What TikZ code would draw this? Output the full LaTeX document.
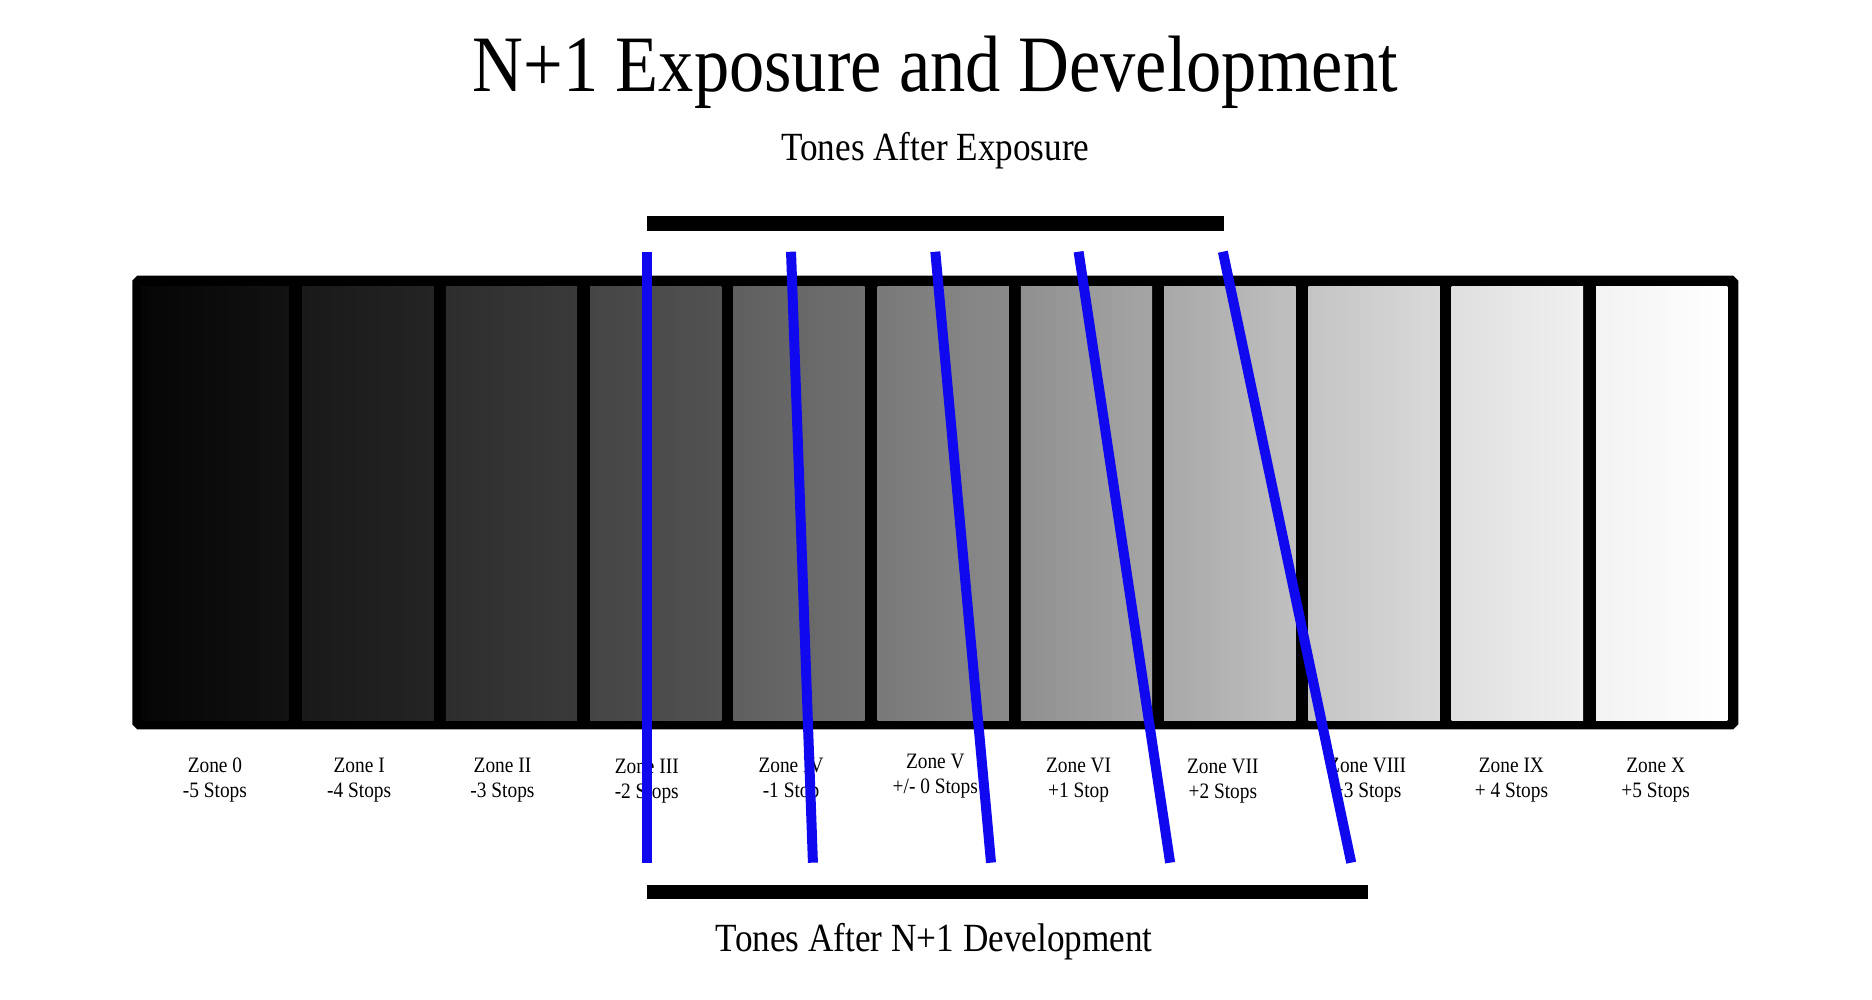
\documentclass[tikz,border=0pt]{standalone}
\usepackage{fontspec}
\setmainfont[FakeStretch=0.88]{Liberation Serif}
\definecolor{toneblue}{RGB}{16,8,238}

\begin{document}
\begin{tikzpicture}[x=0.995pt,y=-0.995pt,
    tone/.style={draw=toneblue,line width=10pt},
    zone/.style={align=center,font=\fontsize{22}{25}\selectfont}]
    \useasboundingbox (0,0) rectangle (1881.4,1005);

    \node[anchor=base,font=\fontsize{80}{90}\selectfont] (title) at (940,92) {N+1 Exposure and Development};
    \node[anchor=base,font=\fontsize{40}{46}\selectfont] (exposure) at (940,161) {Tones After Exposure};
    \node[anchor=base,font=\fontsize{40}{46}\selectfont] (develop) at (939,956) {Tones After N+1 Development};

    % frame with chamfered corners
    \fill (138,277) -- (1742,277) -- (1747,282) -- (1747,728) -- (1742,733)
        -- (138,733) -- (133,728) -- (133,282) -- cycle;

    % the eleven zones
    \foreach \xl/\xr/\lo/\hi in {142/290/5/18, 304/436/25/36, 448/580/45/58,
        593/725/69/82, 737/869/95/112, 882/1014/121/138, 1026/1158/144/165,
        1170/1302/168/192, 1315/1447/196/218, 1459/1591/223/240, 1604/1736/243/255}
    {
        \definecolor{lo}{RGB}{\lo,\lo,\lo}
        \definecolor{hi}{RGB}{\hi,\hi,\hi}
        \shade[left color=lo,right color=hi] (\xl,288) rectangle (\xr,724);
    }

    \node[zone] (z0) at (216,784) {Zone 0\\-5 Stops};
    \node[zone] (z1) at (361,784) {Zone I\\-4 Stops};
    \node[zone] (z2) at (505,784) {Zone II\\-3 Stops};
    \node[zone] (z3) at (650,785) {Zone III\\-2 Stops};
    \node[zone] (z4) at (795,784) {Zone IV\\-1 Stop};
    \node[zone] (z5) at (940,780) {Zone V\\+/- 0 Stops};
    \node[zone] (z6) at (1084,784) {Zone VI\\+1 Stop};
    \node[zone] (z7) at (1229,785) {Zone VII\\+2 Stops};
    \node[zone] (z8) at (1374,784) {Zone VIII\\+3 Stops};
    \node[zone] (z9) at (1519,784) {Zone IX\\+ 4 Stops};
    \node[zone] (z10) at (1664,784) {Zone X\\+5 Stops};

    % bars
    \fill (650,217) rectangle (1230,232);
    \fill (650,889) rectangle (1375,904);

    % tones before and after
    \coordinate (e3) at (650,253);
    \coordinate (e4) at (795,253);
    \coordinate (e5) at (940,253);
    \coordinate (e6) at (1084,253);
    \coordinate (e7) at (1229,253);
    \coordinate (d3) at (650,867);
    \coordinate (d4) at (817,867);
    \coordinate (d5) at (996,867);
    \coordinate (d6) at (1176,867);
    \coordinate (d7) at (1358,867);
    \foreach \n in {3,...,7}
        \draw[tone] (e\n) -- (d\n);
\end{tikzpicture}
\end{document}
